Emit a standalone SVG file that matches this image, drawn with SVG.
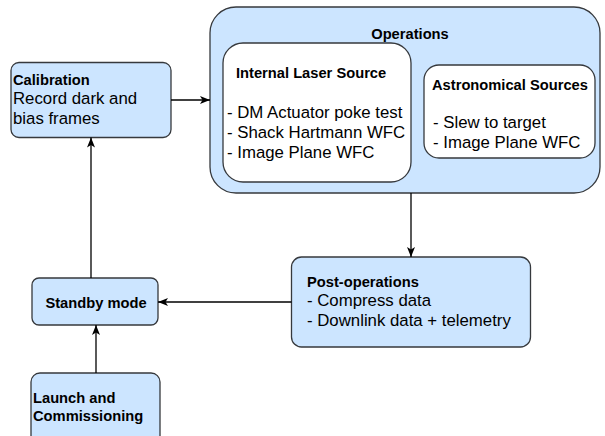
<svg xmlns="http://www.w3.org/2000/svg" width="605" height="436" viewBox="0 0 605 436">
<style>
.box{fill:#cce5ff;stroke:#36393d;stroke-width:1.3}
.inner{fill:#ffffff;stroke:#36393d;stroke-width:1.3}
text{font-family:"Liberation Sans",Arial,sans-serif;fill:#000}
.b{font-weight:bold;font-size:14.7px}
.r{font-size:16.8px}
.edge{fill:none;stroke:#000;stroke-width:1.3}
</style>
<defs>
<marker id="arr" markerUnits="userSpaceOnUse" markerWidth="12" markerHeight="10" refX="10" refY="4" orient="auto" viewBox="0 0 12 10">
<path d="M0,0 L10,4 L0,8 L2.5,4 Z" fill="#000"/>
</marker>
</defs>
<rect width="605" height="436" fill="#ffffff"/>
<g id="calibration">
<rect class="box" x="11" y="62.5" width="160" height="75" rx="8"/>
<text x="13" y="85" class="b">Calibration</text>
<text x="13" y="104" class="r">Record dark and</text>
<text x="13" y="124" class="r">bias frames</text>
</g>
<g id="operations">
<rect class="box" x="210" y="7" width="390" height="186" rx="26"/>
<text x="410" y="38.5" class="b" text-anchor="middle">Operations</text>
</g>
<g id="internal-laser">
<rect class="inner" x="223" y="43" width="188" height="139" rx="20"/>
<text x="236" y="78" class="b">Internal Laser Source</text>
<text x="227" y="117.5" class="r">- DM Actuator poke test</text>
<text x="227" y="137.5" class="r">- Shack Hartmann WFC</text>
<text x="227" y="157.5" class="r">- Image Plane WFC</text>
</g>
<g id="astronomical">
<rect class="inner" x="424" y="65" width="171" height="93" rx="15"/>
<text x="432" y="90" class="b">Astronomical Sources</text>
<text x="433" y="128" class="r">- Slew to target</text>
<text x="433" y="148" class="r">- Image Plane WFC</text>
</g>
<g id="post-operations">
<rect class="box" x="291.5" y="257" width="239" height="90" rx="10"/>
<text x="307" y="287" class="b">Post-operations</text>
<text x="307" y="306" class="r">- Compress data</text>
<text x="307" y="326" class="r">- Downlink data + telemetry</text>
</g>
<g id="standby">
<rect class="box" x="32" y="278" width="126" height="47" rx="7"/>
<text x="96" y="308" class="b" text-anchor="middle">Standby mode</text>
</g>
<g id="launch">
<rect class="box" x="31" y="373" width="129" height="75" rx="9"/>
<text x="33" y="403" class="b">Launch and</text>
<text x="33" y="421" class="b">Commissioning</text>
</g>
<g id="connectors">
<path class="edge" d="M171,100 L210,100" marker-end="url(#arr)"/>
<path class="edge" d="M411,193 L411,257" marker-end="url(#arr)"/>
<path class="edge" d="M291.5,302 L158,302" marker-end="url(#arr)"/>
<path class="edge" d="M91,278 L91,137.5" marker-end="url(#arr)"/>
<path class="edge" d="M96,373 L96,325" marker-end="url(#arr)"/>
</g>
</svg>
